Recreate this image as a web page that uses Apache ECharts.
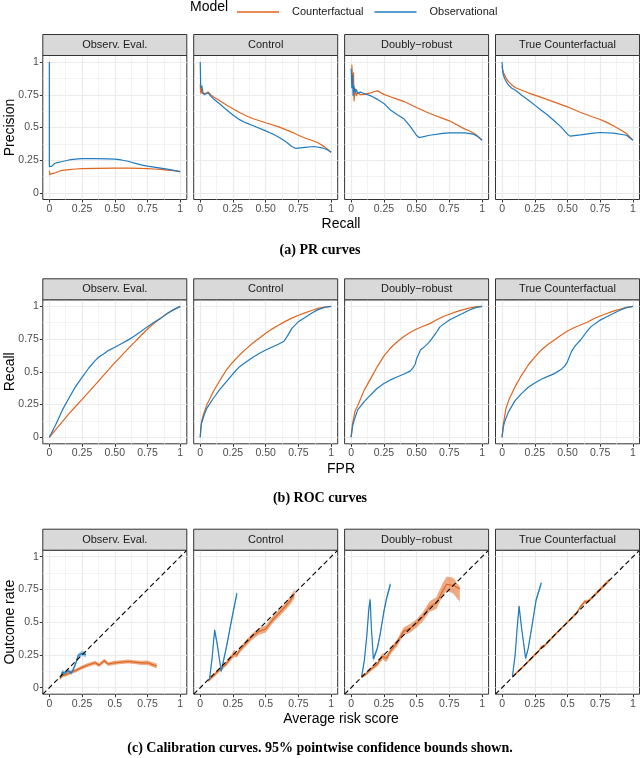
<!DOCTYPE html>
<html lang="en">
<head>
<meta charset="UTF-8" />
<title>PR, ROC and calibration curves</title>
<script src="https://cdn.jsdelivr.net/npm/echarts@6/dist/echarts.min.js"></script>
<style>
  body{margin:0;padding:0;background:#fff;}
  #chart{width:640px;height:758px;}
</style>
</head>
<body>
<div id="chart"></div>
<script>
// facets and models
var facets = ['Observ. Eval.', 'Control', 'Doubly\u2212robust', 'True Counterfactual'];
var models = ['Counterfactual', 'Observational'];

// tick positions and labels
var tickValues = [0, 0.25, 0.5, 0.75, 1];
var minorValues = [0.125, 0.375, 0.625, 0.875];
var xLabelsCurve = ['0', '0.25', '0.50', '0.75', '1'];
var xLabelsCal = ['0', '0.25', '0.5', '0.75', '1'];
var yLabels = ['0', '0.25', '0.5', '0.75', '1'];
var diagonal = [[-0.05, -0.05], [1.05, 1.05]];

// (a) PR curves: [recall, precision]
var prObsEvalCf = [[0,0.17],[0.003,0.14],[0.01,0.15],[0.02,0.148],[0.04,0.152],[0.06,0.16],[0.08,0.168],[0.1,0.173],[0.15,0.178],[0.2,0.183],[0.25,0.186],[0.35,0.188],[0.5,0.19],[0.6,0.19],[0.7,0.188],[0.75,0.186],[0.8,0.183],[0.85,0.18],[0.9,0.175],[0.95,0.17],[1,0.163]];
var prObsEvalObs = [[0,1],[0,0.2],[0.005,0.19],[0.02,0.205],[0.04,0.225],[0.06,0.232],[0.1,0.24],[0.15,0.252],[0.2,0.258],[0.25,0.262],[0.35,0.262],[0.45,0.26],[0.5,0.258],[0.55,0.252],[0.6,0.242],[0.65,0.228],[0.7,0.214],[0.75,0.205],[0.8,0.198],[0.85,0.19],[0.9,0.182],[0.95,0.173],[1,0.163]];
var prControlCf = [[0,0.83],[0.003,0.76],[0.008,0.8],[0.015,0.76],[0.025,0.75],[0.04,0.76],[0.06,0.772],[0.08,0.75],[0.1,0.735],[0.15,0.705],[0.2,0.672],[0.25,0.643],[0.3,0.615],[0.35,0.59],[0.4,0.569],[0.5,0.536],[0.6,0.505],[0.7,0.465],[0.75,0.441],[0.8,0.42],[0.85,0.403],[0.9,0.383],[0.95,0.352],[1,0.311]];
var prControlObs = [[0,1],[0.003,0.82],[0.008,0.8],[0.012,0.82],[0.02,0.77],[0.03,0.75],[0.045,0.76],[0.06,0.765],[0.08,0.74],[0.1,0.72],[0.15,0.68],[0.2,0.635],[0.25,0.595],[0.3,0.56],[0.35,0.535],[0.4,0.515],[0.5,0.474],[0.55,0.452],[0.6,0.425],[0.65,0.395],[0.7,0.355],[0.73,0.34],[0.8,0.348],[0.87,0.355],[0.93,0.345],[0.97,0.33],[1,0.311]];
var prDrCf = [[0.005,0.98],[0.01,0.97],[0.012,0.85],[0.018,0.92],[0.022,0.7],[0.03,0.8],[0.04,0.74],[0.05,0.77],[0.07,0.75],[0.1,0.753],[0.15,0.765],[0.18,0.775],[0.2,0.78],[0.22,0.77],[0.25,0.753],[0.3,0.735],[0.35,0.717],[0.4,0.7],[0.5,0.653],[0.6,0.607],[0.7,0.57],[0.75,0.551],[0.8,0.525],[0.85,0.497],[0.9,0.475],[0.95,0.448],[1,0.403]];
var prDrObs = [[0,0.95],[0.005,0.8],[0.01,0.9],[0.015,0.74],[0.02,0.82],[0.03,0.77],[0.04,0.79],[0.05,0.76],[0.07,0.77],[0.1,0.76],[0.15,0.742],[0.2,0.715],[0.25,0.684],[0.3,0.633],[0.35,0.6],[0.4,0.569],[0.45,0.51],[0.5,0.439],[0.52,0.423],[0.6,0.441],[0.7,0.455],[0.75,0.459],[0.87,0.459],[0.93,0.45],[0.97,0.43],[1,0.403]];
var prTrueCf = [[0,0.97],[0.005,0.94],[0.01,0.92],[0.02,0.9],[0.035,0.87],[0.05,0.85],[0.075,0.825],[0.1,0.806],[0.15,0.785],[0.2,0.765],[0.3,0.73],[0.4,0.694],[0.5,0.658],[0.6,0.615],[0.7,0.578],[0.75,0.561],[0.8,0.539],[0.85,0.513],[0.9,0.485],[0.95,0.454],[1,0.403]];
var prTrueObs = [[0,1],[0.005,0.93],[0.01,0.9],[0.02,0.875],[0.035,0.845],[0.05,0.824],[0.075,0.8],[0.1,0.786],[0.15,0.747],[0.2,0.71],[0.25,0.671],[0.3,0.632],[0.35,0.594],[0.4,0.55],[0.45,0.505],[0.5,0.449],[0.52,0.434],[0.6,0.444],[0.7,0.457],[0.75,0.462],[0.85,0.457],[0.95,0.441],[1,0.403]];

// (b) ROC curves: [fpr, recall]
var rocObsEvalCf = [[0,0],[0.05,0.06],[0.1,0.12],[0.15,0.18],[0.2,0.235],[0.25,0.29],[0.3,0.345],[0.35,0.4],[0.4,0.457],[0.45,0.513],[0.5,0.57],[0.55,0.622],[0.6,0.675],[0.65,0.725],[0.7,0.777],[0.75,0.827],[0.8,0.87],[0.85,0.91],[0.9,0.945],[0.95,0.975],[1,1]];
var rocObsEvalObs = [[0,0],[0.05,0.1],[0.1,0.209],[0.15,0.3],[0.2,0.387],[0.25,0.458],[0.3,0.527],[0.35,0.585],[0.38,0.615],[0.42,0.64],[0.45,0.662],[0.5,0.688],[0.55,0.715],[0.6,0.742],[0.65,0.773],[0.7,0.808],[0.75,0.845],[0.8,0.878],[0.85,0.908],[0.9,0.945],[0.95,0.975],[1,1]];
var rocControlCf = [[0,0],[0.005,0.08],[0.01,0.12],[0.02,0.16],[0.05,0.247],[0.1,0.349],[0.15,0.435],[0.2,0.514],[0.25,0.575],[0.3,0.628],[0.35,0.675],[0.4,0.718],[0.45,0.757],[0.5,0.794],[0.55,0.828],[0.6,0.858],[0.65,0.885],[0.7,0.91],[0.75,0.932],[0.8,0.95],[0.85,0.968],[0.9,0.985],[0.95,0.995],[1,1]];
var rocControlObs = [[0,0],[0.005,0.07],[0.01,0.107],[0.03,0.17],[0.05,0.221],[0.1,0.298],[0.15,0.365],[0.2,0.425],[0.25,0.485],[0.3,0.539],[0.35,0.575],[0.4,0.61],[0.45,0.64],[0.5,0.666],[0.55,0.69],[0.6,0.712],[0.64,0.733],[0.67,0.78],[0.7,0.832],[0.75,0.883],[0.8,0.915],[0.85,0.947],[0.9,0.975],[0.95,0.992],[1,1]];
var rocDrCf = [[0,0],[0.01,0.1],[0.03,0.2],[0.05,0.24],[0.1,0.36],[0.15,0.45],[0.2,0.54],[0.25,0.62],[0.3,0.68],[0.35,0.728],[0.4,0.768],[0.45,0.8],[0.5,0.827],[0.55,0.848],[0.6,0.868],[0.65,0.895],[0.7,0.921],[0.75,0.94],[0.8,0.958],[0.85,0.973],[0.9,0.987],[0.95,0.996],[1,1]];
var rocDrObs = [[0,0],[0.01,0.08],[0.02,0.12],[0.05,0.209],[0.1,0.272],[0.15,0.325],[0.2,0.374],[0.25,0.41],[0.3,0.438],[0.35,0.46],[0.4,0.481],[0.45,0.505],[0.47,0.527],[0.49,0.56],[0.5,0.6],[0.53,0.667],[0.57,0.7],[0.6,0.73],[0.65,0.8],[0.68,0.845],[0.75,0.895],[0.8,0.921],[0.85,0.945],[0.9,0.97],[0.95,0.99],[1,1]];
var rocTrueCf = [[0,0],[0.01,0.1],[0.03,0.22],[0.05,0.28],[0.1,0.387],[0.15,0.475],[0.2,0.552],[0.25,0.612],[0.3,0.667],[0.35,0.708],[0.4,0.743],[0.45,0.78],[0.5,0.812],[0.55,0.837],[0.6,0.858],[0.65,0.878],[0.7,0.905],[0.75,0.926],[0.8,0.945],[0.85,0.963],[0.9,0.978],[0.95,0.992],[1,1]];
var rocTrueObs = [[0,0],[0.01,0.08],[0.02,0.12],[0.05,0.196],[0.1,0.28],[0.15,0.335],[0.2,0.382],[0.25,0.415],[0.3,0.443],[0.35,0.465],[0.4,0.486],[0.45,0.517],[0.48,0.545],[0.5,0.578],[0.53,0.654],[0.56,0.7],[0.6,0.743],[0.65,0.81],[0.68,0.845],[0.75,0.895],[0.8,0.92],[0.85,0.945],[0.9,0.97],[0.95,0.99],[1,1]];

// (c) calibration: [avg risk score, outcome rate, lower, upper]
var calObsEvalCf = [[0.08,0.071,0.058,0.084],[0.1,0.092,0.079,0.105],[0.13,0.1,0.087,0.113],[0.17,0.12,0.107,0.133],[0.2,0.13,0.116,0.144],[0.25,0.155,0.141,0.169],[0.3,0.175,0.16,0.19],[0.35,0.19,0.175,0.205],[0.38,0.172,0.157,0.187],[0.42,0.205,0.19,0.22],[0.45,0.18,0.165,0.195],[0.5,0.19,0.175,0.205],[0.55,0.195,0.18,0.21],[0.6,0.2,0.185,0.215],[0.65,0.195,0.18,0.21],[0.7,0.19,0.174,0.206],[0.75,0.19,0.173,0.207],[0.8,0.172,0.154,0.19],[0.82,0.165,0.146,0.184]];
var calObsEvalObs = [[0.085,0.08,0.068,0.092],[0.1,0.12,0.103,0.137],[0.12,0.11,0.096,0.126],[0.14,0.13,0.115,0.145],[0.17,0.112,0.097,0.127],[0.2,0.18,0.162,0.198],[0.22,0.245,0.227,0.263],[0.25,0.262,0.242,0.282],[0.28,0.252,0.232,0.272]];
var calControlCf = [[0.06,0.053,0.042,0.064],[0.1,0.09,0.076,0.104],[0.15,0.14,0.124,0.156],[0.2,0.183,0.165,0.201],[0.24,0.235,0.215,0.255],[0.26,0.262,0.235,0.29],[0.28,0.25,0.23,0.27],[0.3,0.285,0.265,0.305],[0.35,0.34,0.318,0.362],[0.4,0.394,0.37,0.418],[0.45,0.43,0.405,0.455],[0.5,0.448,0.422,0.474],[0.55,0.515,0.488,0.542],[0.6,0.567,0.539,0.595],[0.65,0.62,0.591,0.649],[0.7,0.682,0.65,0.714],[0.72,0.72,0.685,0.755]];
var calControlObs = [[0.07,0.059,0.048,0.07],[0.09,0.22,0.202,0.238],[0.11,0.44,0.418,0.462],[0.13,0.33,0.312,0.348],[0.16,0.125,0.108,0.142],[0.2,0.31,0.292,0.328],[0.24,0.52,0.498,0.542],[0.28,0.72,0.697,0.745]];
var calDrCf = [[0.08,0.08,0.068,0.092],[0.12,0.11,0.097,0.123],[0.15,0.14,0.125,0.155],[0.2,0.18,0.162,0.198],[0.24,0.24,0.215,0.265],[0.27,0.222,0.196,0.248],[0.3,0.28,0.256,0.304],[0.35,0.34,0.314,0.366],[0.4,0.43,0.4,0.46],[0.45,0.453,0.42,0.486],[0.5,0.491,0.46,0.522],[0.55,0.545,0.51,0.58],[0.6,0.62,0.58,0.66],[0.65,0.644,0.6,0.69],[0.7,0.74,0.7,0.8],[0.73,0.79,0.74,0.85],[0.78,0.78,0.72,0.84],[0.83,0.755,0.656,0.77]];
var calDrObs = [[0.08,0.084,0.073,0.095],[0.1,0.2,0.183,0.217],[0.12,0.4,0.378,0.422],[0.135,0.6,0.577,0.623],[0.145,0.674,0.648,0.698],[0.155,0.45,0.428,0.472],[0.17,0.219,0.199,0.239],[0.2,0.3,0.28,0.32],[0.22,0.4,0.378,0.422],[0.25,0.58,0.557,0.603],[0.27,0.68,0.657,0.703],[0.3,0.79,0.766,0.814]];
var calTrueCf = [[0.08,0.084,0.076,0.092],[0.15,0.15,0.141,0.159],[0.2,0.2,0.191,0.209],[0.25,0.25,0.24,0.26],[0.28,0.28,0.27,0.29],[0.3,0.31,0.298,0.322],[0.32,0.315,0.303,0.327],[0.4,0.4,0.39,0.41],[0.5,0.5,0.49,0.51],[0.57,0.57,0.559,0.581],[0.6,0.62,0.608,0.632],[0.63,0.655,0.641,0.669],[0.66,0.66,0.646,0.674],[0.7,0.7,0.688,0.712],[0.75,0.752,0.739,0.765],[0.82,0.822,0.808,0.836]];
var calTrueObs = [[0.08,0.089,0.078,0.1],[0.1,0.25,0.233,0.267],[0.115,0.45,0.432,0.468],[0.13,0.623,0.603,0.643],[0.15,0.45,0.432,0.468],[0.18,0.224,0.207,0.241],[0.2,0.3,0.283,0.317],[0.23,0.48,0.462,0.498],[0.26,0.669,0.648,0.69],[0.3,0.8,0.778,0.822]];

var colors = ['#E0651E', '#1F7BBF'];
var SANS = 'Liberation Sans, Arial, sans-serif';
var SERIF = 'Liberation Serif, Times New Roman, serif';

// panel layout (px)
var colLeft = [42.8, 193.7, 344.6, 495.5];
var rowTop = [55.5, 299.8, 550.2];
var captionY = [250, 498, 748];
var PW = 144, PH = 144, STRIP = 21;

var rows = [
  {xTitle: 'Recall', yTitle: 'Precision', caption: '(a) PR curves', xLabels: xLabelsCurve, cal: false,
   data: [[prObsEvalCf, prObsEvalObs], [prControlCf, prControlObs], [prDrCf, prDrObs], [prTrueCf, prTrueObs]]},
  {xTitle: 'FPR', yTitle: 'Recall', caption: '(b) ROC curves', xLabels: xLabelsCurve, cal: false,
   data: [[rocObsEvalCf, rocObsEvalObs], [rocControlCf, rocControlObs], [rocDrCf, rocDrObs], [rocTrueCf, rocTrueObs]]},
  {xTitle: 'Average risk score', yTitle: 'Outcome rate', caption: '(c) Calibration curves. 95% pointwise confidence bounds shown.', xLabels: xLabelsCal, cal: true,
   data: [[calObsEvalCf, calObsEvalObs], [calControlCf, calControlObs], [calDrCf, calDrObs], [calTrueCf, calTrueObs]]}
];

function mainAxis(g, labels, show) {
  return {
    type: 'value', gridIndex: g, min: -0.05, max: 1.05,
    axisLine: {show: false, onZero: false},
    axisTick: {show: show, customValues: tickValues, length: 3, lineStyle: {color: '#333', width: 1}},
    axisLabel: {show: show, customValues: tickValues, margin: 4, color: '#4D4D4D', fontSize: 10.5, fontFamily: SANS,
      formatter: function (v) { return labels[tickValues.indexOf(v)]; }},
    splitLine: {show: true, lineStyle: {color: '#EBEBEB', width: 1.2}}
  };
}
function minorAxis(g) {
  return {
    type: 'value', gridIndex: g, min: -0.05, max: 1.05,
    axisLine: {show: false, onZero: false},
    axisTick: {show: false, customValues: minorValues},
    axisLabel: {show: false, customValues: minorValues},
    splitLine: {show: true, lineStyle: {color: '#F0F0F0', width: 0.8}}
  };
}
function curve(pts, m, xi, yi) {
  return {type: 'line', name: models[m], xAxisIndex: xi, yAxisIndex: yi, z: 4 + m,
    data: pts.map(function (p) { return [p[0], p[1]]; }),
    symbol: 'none', showSymbol: false, silent: true,
    lineStyle: {color: colors[m], width: 1.2}, itemStyle: {color: colors[m]}};
}
function band(pts, m, xi, yi) {
  return {type: 'custom', name: 'band', xAxisIndex: xi, yAxisIndex: yi, z: 2, silent: true,
    data: pts.map(function (p) { return [p[0], p[1]]; }),
    renderItem: function (params, api) {
      if (params.dataIndex !== 0) return null;
      var up = pts.map(function (p) { return api.coord([p[0], p[3]]); });
      var lo = pts.slice().reverse().map(function (p) { return api.coord([p[0], p[2]]); });
      return {type: 'polygon', shape: {points: up.concat(lo)},
        style: {fill: colors[m], opacity: m === 0 ? 0.55 : 0.4}};
    }};
}

var grids = [], xAxes = [], yAxes = [], series = [], graphics = [];
rows.forEach(function (row, r) {
  facets.forEach(function (name, c) {
    var g = grids.length;
    grids.push({left: colLeft[c], top: rowTop[r], width: PW, height: PH, show: true,
      backgroundColor: '#fff', borderColor: '#333', borderWidth: 1});
    var xi = xAxes.length, yi = yAxes.length;
    xAxes.push(mainAxis(g, row.xLabels, true), minorAxis(g));
    yAxes.push(mainAxis(g, yLabels, c === 0), minorAxis(g));
    var d = row.data[c];
    if (row.cal) {
      series.push(band(d[0], 0, xi, yi), band(d[1], 1, xi, yi));
    }
    series.push(curve(d[0], 0, xi, yi), curve(d[1], 1, xi, yi));
    if (row.cal) {
      series.push({type: 'line', name: 'diagonal', xAxisIndex: xi, yAxisIndex: yi, z: 6, silent: true,
        data: diagonal, symbol: 'none', lineStyle: {color: '#000', width: 1.1, type: [5, 3]}});
    }
    // facet strip
    graphics.push({type: 'rect', shape: {x: colLeft[c], y: rowTop[r] - STRIP, width: PW, height: STRIP},
      style: {fill: '#D9D9D9', stroke: '#333', lineWidth: 1}, z: 10});
    graphics.push({type: 'text', x: colLeft[c] + PW / 2, y: rowTop[r] - STRIP / 2, z: 11,
      style: {text: name, fill: '#1A1A1A', font: '11px ' + SANS, textAlign: 'center', textVerticalAlign: 'middle'}});
  });
  // axis titles and caption
  graphics.push({type: 'text', x: 341, y: rowTop[r] + PH + 25, z: 11,
    style: {text: row.xTitle, fill: '#000', font: '14px ' + SANS, textAlign: 'center', textVerticalAlign: 'middle'}});
  graphics.push({type: 'text', x: 10, y: rowTop[r] + PH / 2, rotation: Math.PI / 2, z: 11,
    style: {text: row.yTitle, fill: '#000', font: '14px ' + SANS, textAlign: 'center', textVerticalAlign: 'middle'}});
  graphics.push({type: 'text', x: 320, y: captionY[r], z: 11,
    style: {text: row.caption, fill: '#000', font: 'bold 14px ' + SERIF, textAlign: 'center', textVerticalAlign: 'middle'}});
});
graphics.push({type: 'text', x: 190, y: 7, z: 11,
  style: {text: 'Model', fill: '#000', font: '14px ' + SANS, textAlign: 'left', textVerticalAlign: 'middle'}});

var chart = echarts.init(document.getElementById('chart'));
chart.setOption({
  animation: false,
  backgroundColor: '#fff',
  legend: {data: models, left: 232, top: 0, icon: 'rect', itemWidth: 42, itemHeight: 1.4, itemGap: 11,
    textStyle: {fontSize: 11, color: '#1A1A1A', fontFamily: SANS, padding: [0, 0, 0, 8], lineHeight: 14}},
  grid: grids,
  xAxis: xAxes,
  yAxis: yAxes,
  series: series,
  graphic: graphics
});
</script>
</body>
</html>
